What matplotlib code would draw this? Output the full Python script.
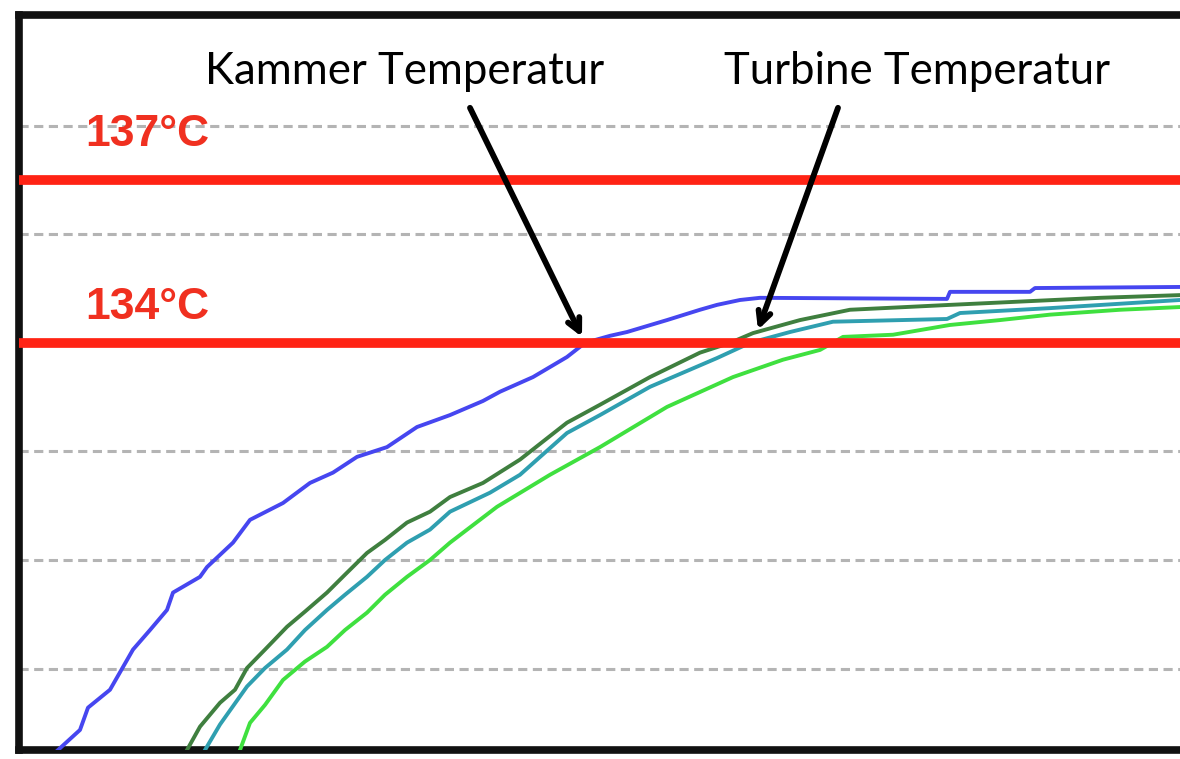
import matplotlib
matplotlib.use("Agg")
from matplotlib import pyplot as plt

# time in seconds, temperature in °C
kammer_t = [39, 61, 69, 91, 114, 131, 148, 154, 181, 188, 214, 231, 264, 291, 314, 338,
            368, 398, 431, 464, 481, 514, 548, 566, 591, 608, 648, 681, 698, 721, 741,
            928, 931, 1011, 1016, 1161]
kammer_c = [126.50, 126.87, 127.28, 127.61, 128.35, 128.71, 129.08, 129.40, 129.69, 129.87,
            130.32, 130.74, 131.05, 131.42, 131.61, 131.90, 132.08, 132.45, 132.67, 132.93,
            133.10, 133.37, 133.74, 134.00, 134.13, 134.20, 134.42, 134.61, 134.70, 134.79,
            134.83, 134.81, 134.94, 134.94, 135.01, 135.03]

turb1_t = [168, 181, 201, 216, 228, 246, 268, 286, 308, 326, 348, 366, 388, 411, 431, 464,
           501, 548, 581, 631, 681, 711, 734, 781, 831, 931, 1081, 1161]
turb1_c = [126.50, 126.93, 127.37, 127.61, 128.01, 128.35, 128.77, 129.05, 129.40, 129.73,
           130.13, 130.37, 130.69, 130.89, 131.16, 131.42, 131.85, 132.53, 132.86, 133.37,
           133.82, 134.00, 134.18, 134.42, 134.61, 134.70, 134.83, 134.88]

turb2_t = [186, 201, 228, 246, 268, 286, 308, 326, 348, 366, 388, 411, 431, 471, 501, 548,
           581, 631, 698, 731, 771, 814, 928, 941, 1031, 1161]
turb2_c = [126.50, 126.97, 127.67, 128.01, 128.35, 128.71, 129.08, 129.36, 129.69, 130.00,
           130.32, 130.56, 130.89, 131.24, 131.57, 132.34, 132.67, 133.19, 133.72, 134.00,
           134.20, 134.39, 134.44, 134.55, 134.64, 134.79]

turb3_t = [221, 231, 246, 264, 286, 308, 326, 348, 366, 388, 411, 431, 478, 531, 581, 648,
           714, 764, 801, 824, 874, 931, 981, 1031, 1101, 1161]
turb3_c = [126.50, 127.00, 127.33, 127.79, 128.13, 128.40, 128.71, 129.03, 129.36, 129.69,
           130.00, 130.32, 130.98, 131.57, 132.08, 132.82, 133.37, 133.69, 133.87, 134.11,
           134.15, 134.33, 134.42, 134.52, 134.61, 134.66]

grid_c = [128, 130, 132, 134, 136, 138]
limits_c = [137, 134]
limit_labels = ["137°C", "134°C"]

fig = plt.figure(figsize=(11.8, 7.59), dpi=100)
ax = fig.add_axes([19 / 1180, 9 / 759, 1 - 19 / 1180, 735 / 759])
ax.set_xlim(0, 1161)
ax.set_ylim(126.5, 140.04)

# dashed grid
for g in grid_c:
    ax.axhline(g, color="#b4b4b4", lw=2.2, ls=(0, (3.0, 1.8)), zorder=1)

# curves
ax.plot(turb3_t, turb3_c, color="#3fe03f", lw=2.8, zorder=3)
ax.plot(turb2_t, turb2_c, color="#2f9fb0", lw=2.8, zorder=3)
ax.plot(turb1_t, turb1_c, color="#3f7f3f", lw=2.8, zorder=3)
ax.plot(kammer_t, kammer_c, color="#4646f0", lw=2.8, zorder=4)

# limit lines
for c in limits_c:
    ax.axhline(c, color="#ff2314", lw=7, zorder=5)
for c, lab in zip([137.83, 134.66], limit_labels):
    ax.text(66, c, lab, color="#f03020", fontsize=32, fontweight="bold",
            family="Liberation Sans", ha="left", va="center", zorder=6)

# arrows + labels
arrow = dict(arrowstyle="->,head_length=0.9,head_width=0.45", color="black", lw=4.2,
             shrinkA=0, shrinkB=0)
ax.annotate("", xy=(563, 134.11), xytext=(451, 138.33), arrowprops=arrow, zorder=7)
ax.annotate("", xy=(739, 134.24), xytext=(819, 138.33), arrowprops=arrow, zorder=7)
ax.text(386, 138.99, "Kammer Temperatur", fontsize=31.5, family="Lato", ha="center",
        va="center", zorder=8, bbox=dict(facecolor="white", edgecolor="none", pad=8))
ax.text(898, 138.99, "Turbine Temperatur", fontsize=31.5, family="Lato", ha="center",
        va="center", zorder=8, bbox=dict(facecolor="white", edgecolor="none", pad=8))

ax.set_xticks([])
ax.set_yticks([])
for s in ["left", "top", "bottom"]:
    ax.spines[s].set_linewidth(5.5)
    ax.spines[s].set_color("#111111")
ax.spines["right"].set_visible(False)

fig.savefig("out.png", dpi=100)
